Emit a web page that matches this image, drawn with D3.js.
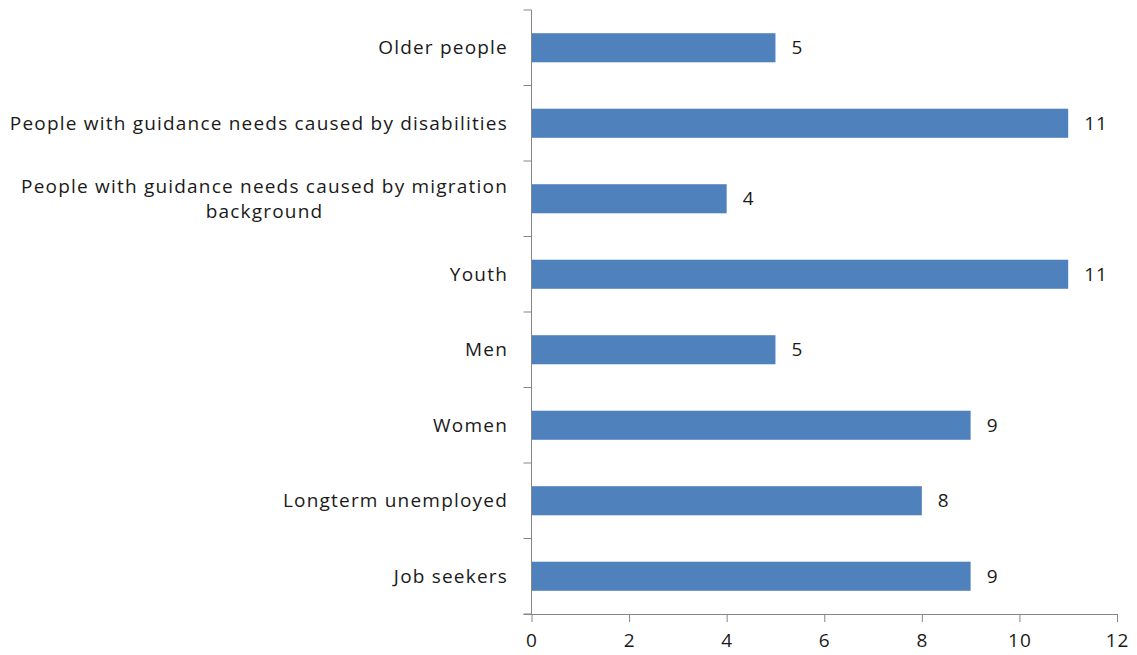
<!DOCTYPE html>
<html>
<head>
<meta charset="utf-8">
<script src="https://cdn.jsdelivr.net/npm/d3@7"></script>
<style>
  body { margin: 0; background: #fff; }
  text { font-family: "Open Sans", Lato, sans-serif; }
</style>
</head>
<body>
<div id="chart"></div>
<script>
// categories top to bottom, as in the picture
var categories = [
    "Older people",
    "People with guidance needs caused by disabilities",
    "People with guidance needs caused by migration background",
    "Youth",
    "Men",
    "Women",
    "Longterm unemployed",
    "Job seekers"
];
var values = [5, 11, 4, 11, 5, 9, 8, 9];
var xTicks = [0, 2, 4, 6, 8, 10, 12];

var width = 1137, height = 655;
var margin = { top: 10, right: 20, bottom: 41, left: 531.5 };
var fs = 19;

var svg = d3.select("#chart").append("svg")
    .attr("width", width)
    .attr("height", height);

var x = d3.scaleLinear()
    .domain([0, 12])
    .range([margin.left, 1117]);

var y = d3.scaleBand()
    .domain(categories)
    .range([margin.top, height - margin.bottom])
    .paddingInner(0.615)
    .paddingOuter(0.3075);

var data = categories.map(function(c, i) { return { cat: c, val: values[i] }; });

// bars
svg.append("g")
    .selectAll("rect")
    .data(data).enter()
    .append("rect")
    .attr("x", x(0))
    .attr("y", function(d) { return y(d.cat); })
    .attr("width", function(d) { return x(d.val) - x(0); })
    .attr("height", y.bandwidth())
    .attr("fill", "#4f81bd");

// value labels
svg.append("g")
    .selectAll("text")
    .data(data).enter()
    .append("text")
    .attr("x", function(d) { return x(d.val) + 16; })
    .attr("y", function(d) { return y(d.cat) + y.bandwidth() / 2; })
    .attr("dy", "0.35em")
    .attr("font-size", fs)
    .attr("letter-spacing", 1)
    .attr("fill", "#1a1a1a")
    .text(function(d) { return d.val; });

// x axis
var xAxis = svg.append("g")
    .attr("transform", "translate(0," + (height - margin.bottom) + ")")
    .call(d3.axisBottom(x).tickValues(xTicks).tickSize(8).tickPadding(12));
xAxis.select(".domain").attr("stroke", "#868686").attr("d", "M" + (x(0) - 8) + ",0.5H" + x(12));
xAxis.selectAll(".tick line").attr("stroke", "#868686");
xAxis.selectAll(".tick text").attr("font-size", fs).attr("fill", "#1a1a1a")
    .attr("letter-spacing", 1)
    .attr("font-family", "'Open Sans', sans-serif");

// y axis: line with ticks at band boundaries
var step = y.step();
var bounds = d3.range(categories.length + 1).map(function(i) { return margin.top + i * step; });
svg.append("line")
    .attr("x1", x(0)).attr("x2", x(0))
    .attr("y1", margin.top).attr("y2", height - margin.bottom)
    .attr("stroke", "#868686");
svg.append("g")
    .selectAll("line")
    .data(bounds).enter()
    .append("line")
    .attr("x1", x(0) - 8).attr("x2", x(0))
    .attr("y1", function(d) { return d; }).attr("y2", function(d) { return d; })
    .attr("stroke", "#868686");

// category labels, wrapped if too long
var labelRight = 508, maxW = 505;
var labels = svg.append("g")
    .selectAll("text")
    .data(categories).enter()
    .append("text")
    .attr("font-size", fs)
    .attr("letter-spacing", 1.2)
    .attr("fill", "#1a1a1a")
    .attr("text-anchor", "end");

labels.each(function(c) {
    var t = d3.select(this);
    var cy = y(c) + y.bandwidth() / 2;
    t.text(c);
    if (this.getComputedTextLength() <= maxW) {
        t.attr("x", labelRight).attr("y", cy).attr("dy", "0.35em");
        return;
    }
    // split into lines
    var words = c.split(" "), lines = [], line = [];
    t.text(null);
    var probe = t.append("tspan");
    words.forEach(function(w) {
        line.push(w);
        probe.text(line.join(" "));
        if (probe.node().getComputedTextLength() > maxW && line.length > 1) {
            line.pop();
            lines.push(line.join(" "));
            line = [w];
        }
    });
    lines.push(line.join(" "));
    probe.remove();
    var widths = lines.map(function(l) { t.text(l); return this.getComputedTextLength(); }, this);
    t.text(null);
    var blockW = d3.max(widths);
    var lh = 25;
    t.attr("text-anchor", "middle");
    lines.forEach(function(l, i) {
        t.append("tspan")
            .attr("x", labelRight - blockW / 2)
            .attr("y", cy + (i - (lines.length - 1) / 2) * lh)
            .attr("dy", "0.35em")
            .text(l);
    });
});
</script>
</body>
</html>
